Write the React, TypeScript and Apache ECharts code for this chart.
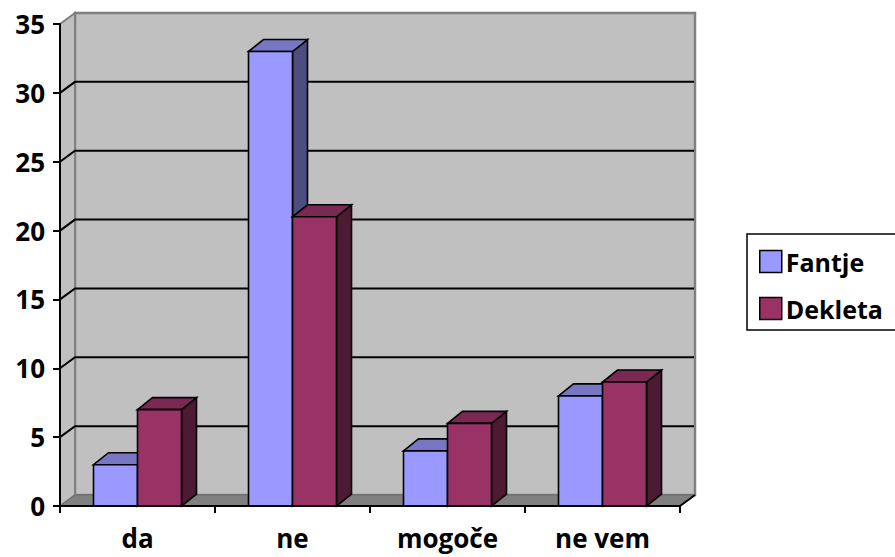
import React, { useEffect, useRef } from "react";
import * as echarts from "echarts";

const CATEGORIES = ["da", "ne", "mogoče", "ne vem"];
const FANTJE = [3, 33, 4, 8];
const DEKLETA = [7, 21, 6, 9];
const Y_MIN = 0;
const Y_MAX = 35;
const Y_INTERVAL = 5;
const GRID_TICKS = [5, 10, 15, 20, 25, 30];

const WALL_DX = 15;
const WALL_DY = -11;
const BAR_DX = 15;
const BAR_DY = -12;
const BAR_FRAC = 44 / 155;
const FONT = "'Open Sans', 'DejaVu Sans', sans-serif";

const FANTJE_COLORS = { front: "#9999FF", top: "#7777C4", side: "#4D4D80" };
const DEKLETA_COLORS = { front: "#993366", top: "#7A2952", side: "#4D1A33" };

function makeBarRenderer(slot: number, colors: { front: string; top: string; side: string }) {
  return (params: any, api: any) => {
    const i = api.value(0);
    const v = api.value(1);
    const base = api.coord([i, 0]);
    const top = api.coord([i, v]);
    const bw = api.size([1, 0])[0];
    const w = bw * BAR_FRAC;
    const x0 = base[0] - w + slot * w;
    const x1 = x0 + w;
    const yT = top[1];
    const yB = base[1];
    const stroke = { stroke: "#000", lineWidth: 1.6, lineJoin: "miter" };
    return {
      type: "group",
      children: [
        {
          type: "polygon",
          shape: { points: [[x1, yT], [x1 + BAR_DX, yT + BAR_DY], [x1 + BAR_DX, yB + BAR_DY], [x1, yB]] },
          style: { fill: colors.side, ...stroke },
        },
        {
          type: "polygon",
          shape: { points: [[x0, yT], [x1, yT], [x1 + BAR_DX, yT + BAR_DY], [x0 + BAR_DX, yT + BAR_DY]] },
          style: { fill: colors.top, ...stroke },
        },
        {
          type: "rect",
          shape: { x: x0, y: yT, width: w, height: yB - yT },
          style: { fill: colors.front, ...stroke },
        },
      ],
    };
  };
}

function renderWalls(params: any, api: any) {
  const bw = api.size([1, 0])[0];
  const L = api.coord([0, Y_MIN])[0] - bw / 2;
  const R = api.coord([CATEGORIES.length - 1, Y_MIN])[0] + bw / 2;
  const y0 = api.coord([0, Y_MIN])[1];
  const yTop = api.coord([0, Y_MAX])[1];
  const children: any[] = [];
  // back wall
  children.push({
    type: "rect",
    shape: { x: L + WALL_DX, y: yTop + WALL_DY, width: R - L, height: y0 - yTop },
    style: { fill: "#C0C0C0", stroke: "#808080", lineWidth: 2.5 },
  });
  // left side wall
  children.push({
    type: "polygon",
    shape: { points: [[L, yTop], [L + WALL_DX, yTop + WALL_DY], [L + WALL_DX, y0 + WALL_DY], [L, y0]] },
    style: { fill: "#C0C0C0", stroke: "#808080", lineWidth: 2 },
  });
  // floor
  children.push({
    type: "polygon",
    shape: { points: [[L, y0], [R, y0], [R + WALL_DX, y0 + WALL_DY], [L + WALL_DX, y0 + WALL_DY]] },
    style: { fill: "#808080", stroke: "#6a6a6a", lineWidth: 1 },
  });
  children.push({
    type: "line",
    shape: { x1: R, y1: y0, x2: R + WALL_DX, y2: y0 + WALL_DY },
    style: { stroke: "#000", lineWidth: 2 },
  });
  // gridlines
  GRID_TICKS.forEach((t) => {
    const y = api.coord([0, t])[1];
    children.push({
      type: "polyline",
      shape: { points: [[L, y], [L + WALL_DX, y + WALL_DY], [R + WALL_DX - 1, y + WALL_DY]] },
      style: { stroke: "#000", lineWidth: 2, fill: "none" },
    });
  });
  return { type: "group", children };
}

export default function App() {
  const ref = useRef<HTMLDivElement>(null);
  useEffect(() => {
    if (!ref.current) return;
    const chart = echarts.init(ref.current, null, { renderer: "svg" });
    chart.setOption({
      animation: false,
      backgroundColor: "#fff",
      grid: { left: 60, top: 24, width: 620, height: 482, containLabel: false },
      xAxis: {
        type: "category",
        data: CATEGORIES,
        boundaryGap: true,
        z: 10,
        axisLine: { show: true, lineStyle: { color: "#000", width: 2 } },
        axisTick: { show: true, length: 7, lineStyle: { color: "#000", width: 2 } },
        axisLabel: {
          margin: 21,
          color: "#000",
          fontFamily: FONT,
          fontWeight: "bold",
          fontSize: 26,
          lineHeight: 22,
        },
        splitLine: { show: false },
      },
      yAxis: {
        type: "value",
        min: Y_MIN,
        max: Y_MAX,
        interval: Y_INTERVAL,
        z: 10,
        axisLine: { show: true, lineStyle: { color: "#000", width: 2 } },
        axisTick: { show: true, length: 7, lineStyle: { color: "#000", width: 2 } },
        axisLabel: { margin: 15, color: "#000", fontFamily: FONT, fontWeight: "bold", fontSize: 26 },
        splitLine: { show: false },
      },
      legend: {
        orient: "vertical",
        left: 759,
        top: 249,
        padding: 0,
        itemWidth: 22,
        itemHeight: 22,
        itemGap: 22,
        icon: "rect",
        textStyle: { color: "#000", fontFamily: FONT, fontWeight: "bold", fontSize: 25, padding: [0, 0, 0, -1] },
        itemStyle: { borderColor: "#000", borderWidth: 1.5 },
        data: ["Fantje", "Dekleta"],
      },
      graphic: [
        {
          type: "rect",
          z: 0,
          shape: { x: 747, y: 234, width: 200, height: 96 },
          style: { fill: "#fff", stroke: "#000", lineWidth: 1.5 },
        },
      ],
      series: [
        {
          type: "custom",
          name: "walls",
          z: 1,
          clip: false,
          silent: true,
          renderItem: renderWalls,
          data: [[0, 0]],
          encode: { x: 0, y: 1 },
        },
        {
          type: "custom",
          name: "Fantje",
          z: 2,
          clip: false,
          itemStyle: { color: FANTJE_COLORS.front },
          renderItem: makeBarRenderer(0, FANTJE_COLORS),
          data: FANTJE.map((v, i) => [i, v]),
          encode: { x: 0, y: 1 },
        },
        {
          type: "custom",
          name: "Dekleta",
          z: 3,
          clip: false,
          itemStyle: { color: DEKLETA_COLORS.front },
          renderItem: makeBarRenderer(1, DEKLETA_COLORS),
          data: DEKLETA.map((v, i) => [i, v]),
          encode: { x: 0, y: 1 },
        },
      ],
    });
    return () => chart.dispose();
  }, []);
  return (
    <div
      ref={ref}
      style={{ position: "fixed", left: 0, top: 0, width: 895, height: 557 }}
    />
  );
}
